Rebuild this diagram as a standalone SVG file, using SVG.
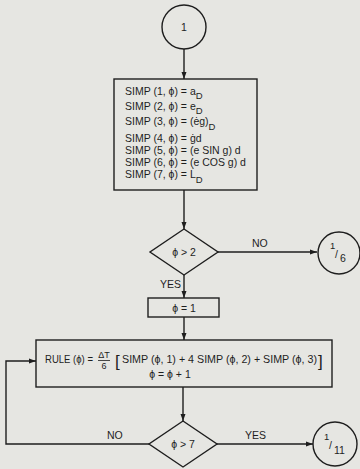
<svg xmlns="http://www.w3.org/2000/svg" width="360" height="469" viewBox="0 0 360 469">
<defs>
<marker id="arr" markerWidth="8" markerHeight="8" refX="7" refY="4" orient="auto" markerUnits="userSpaceOnUse">
<path d="M0,1.5 L7,4 L0,6.5 Z" fill="#1e1e1e"/>
</marker>
<style>
.s{fill:none;stroke:#1e1e1e;stroke-width:1.4}
.c{stroke:#1e1e1e;stroke-width:1.4;fill:none;marker-end:url(#arr)}
text{font-family:"Liberation Sans Narrow","Liberation Sans",Arial,sans-serif;font-size:10.5px;fill:#1e1e1e}
.m{text-anchor:middle}
.sub{font-size:9.5px}
</style>
</defs>
<rect width="360" height="469" fill="#e6e6e2"/>
<g id="connectors">
<line class="c" x1="184" y1="49" x2="184" y2="79"/>
<line class="c" x1="184" y1="190" x2="184" y2="229"/>
<line class="c" x1="218" y1="252" x2="317" y2="252"/>
<line class="c" x1="184" y1="275" x2="184" y2="298"/>
<line class="c" x1="184" y1="317" x2="184" y2="340"/>
<line class="c" x1="183" y1="387" x2="183" y2="421"/>
<line class="c" x1="217" y1="444" x2="313" y2="444"/>
<polyline class="c" points="149,444 6,444 6,361 36,361"/>
<text x="252" y="247">NO</text>
<text x="160" y="288">YES</text>
<text x="107" y="439">NO</text>
<text x="245" y="439">YES</text>
</g>
<g id="start">
<circle class="s" cx="184" cy="27" r="22"/>
<text class="m" x="184" y="31">1</text>
</g>
<g id="simp">
<rect class="s" x="114" y="79" width="143" height="111"/>
<text x="125" y="95">SIMP (1, ϕ) = a<tspan class="sub" dy="4">D</tspan></text>
<text x="125" y="110">SIMP (2, ϕ) = e<tspan class="sub" dy="4">D</tspan></text>
<text x="125" y="125">SIMP (3, ϕ) = (ėg)<tspan class="sub" dy="5">D</tspan></text>
<text x="125" y="142">SIMP (4, ϕ) = ġd</text>
<text x="125" y="154">SIMP (5, ϕ) = (e SIN g) d</text>
<text x="125" y="166">SIMP (6, ϕ) = (e COS g) d</text>
<text x="125" y="178">SIMP (7, ϕ) = L̇<tspan class="sub" dy="5">D</tspan></text>
</g>
<g id="dec1">
<polygon class="s" points="184,229 218,252 184,275 150,252"/>
<text class="m" x="184" y="256">ϕ &gt; 2</text>
</g>
<g id="conn16">
<circle class="s" cx="339" cy="253" r="21"/>
<text x="330" y="249" class="sub">1</text>
<text x="335" y="258">/</text>
<text x="340" y="262">6</text>
</g>
<g id="init">
<rect class="s" x="148" y="298" width="71" height="19"/>
<text class="m" x="184" y="312">ϕ = 1</text>
</g>
<g id="rule">
<rect class="s" x="36" y="340" width="296" height="47"/>
<text x="45" y="363" textLength="48" lengthAdjust="spacingAndGlyphs">RULE (ϕ) =</text>
<text class="m" x="104" y="358" style="font-size:9px">ΔT</text>
<line x1="98" y1="360.5" x2="110" y2="360.5" stroke="#1e1e1e" stroke-width="0.8"/>
<text class="m" x="104" y="369" style="font-size:9px">6</text>
<text x="115" y="367" style="font-size:17px">[</text>
<text x="122" y="363" textLength="195" lengthAdjust="spacingAndGlyphs">SIMP (ϕ, 1) + 4 SIMP (ϕ, 2) + SIMP (ϕ, 3)</text>
<text x="318" y="367" style="font-size:17px">]</text>
<text class="m" x="170" y="378">ϕ = ϕ + 1</text>
</g>
<g id="dec2">
<polygon class="s" points="183,421 217,444 183,467 149,444"/>
<text class="m" x="183" y="448">ϕ &gt; 7</text>
</g>
<g id="conn111">
<circle class="s" cx="335" cy="444" r="22"/>
<text x="324" y="440" class="sub">1</text>
<text x="329" y="449">/</text>
<text x="334" y="454">11</text>
</g>
</svg>
